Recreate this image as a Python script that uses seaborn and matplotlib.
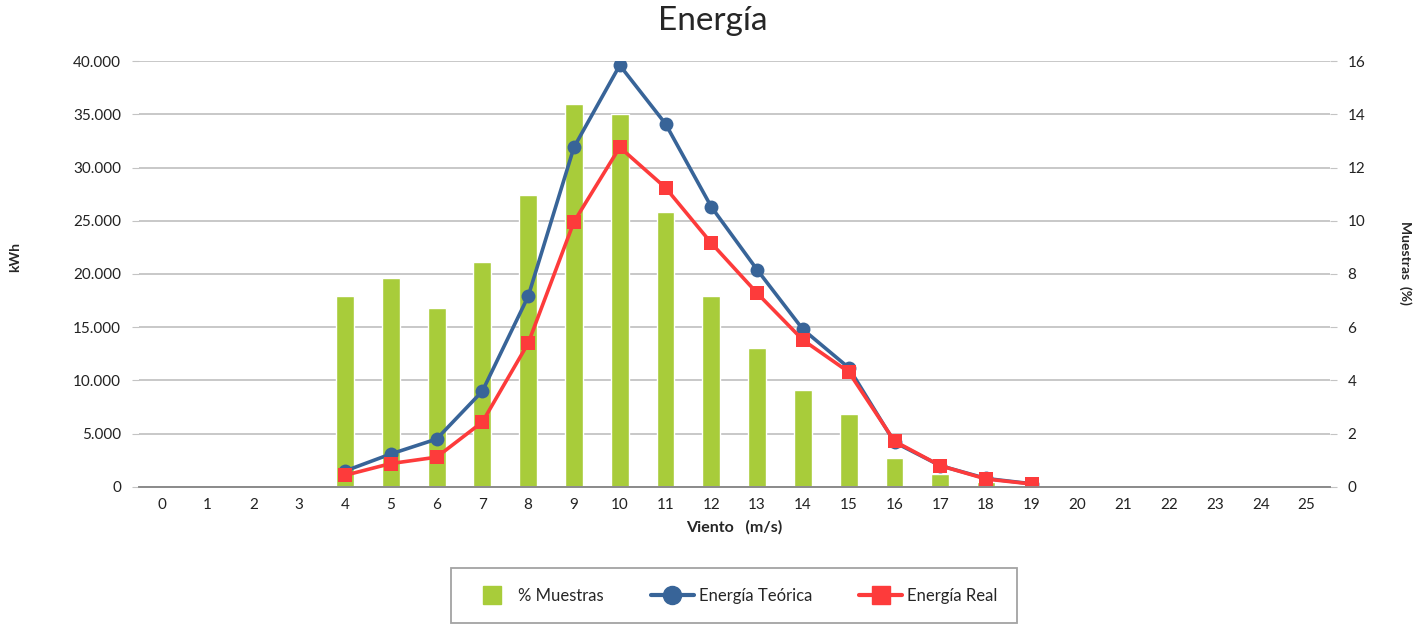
import matplotlib
matplotlib.use("Agg")
import matplotlib.pyplot as plt
import seaborn as sns
import pandas as pd
import numpy as np
from matplotlib.ticker import FuncFormatter, MultipleLocator
from matplotlib.lines import Line2D

# data
viento = list(range(0, 26))
muestras = [0, 0, 0, 0, 7.18, 7.86, 6.73, 8.46, 10.95, 14.4, 14.0, 10.34, 7.18,
            5.22, 3.64, 2.74, 1.09, 0.49, 0.19, 0.05, 0, 0, 0, 0, 0, 0]
viento_e = list(range(4, 20))
energia_teorica = [1500, 3100, 4500, 9000, 17900, 31900, 39600, 34100, 26300,
                   20400, 14800, 11200, 4200, 2000, 800, 300]
energia_real = [1100, 2200, 2800, 6100, 13500, 24900, 31900, 28100, 22900,
                18200, 13800, 10800, 4300, 2000, 750, 280]

verde = "#A8CC3A"
azul = "#386498"
rojo = "#FD3B3B"

sns.set_style("white")
plt.rcParams['font.family'] = ['Lato', 'DejaVu Sans']

df_bar = pd.DataFrame({"viento": [str(v) for v in viento], "muestras": muestras})

fig = plt.figure(figsize=(14.25, 6.27), dpi=100)
ax = fig.add_axes([0.0975, 0.2233, 0.8355, 0.6794])

sns.barplot(data=df_bar, x="viento", y="muestras", ax=ax, color=verde,
            width=0.39, saturation=1, zorder=2)

ax2 = ax.twinx()
sns.lineplot(x=viento_e, y=energia_teorica, ax=ax2, color=azul, marker="o",
             markersize=10, markeredgewidth=0, linewidth=2.6)
sns.lineplot(x=viento_e, y=energia_real, ax=ax2, color=rojo, marker="s",
             markersize=10, markeredgewidth=0, linewidth=2.6)

# bars axis: percent on the right
ax.set_ylim(0, 16)
ax.yaxis.set_major_locator(MultipleLocator(2))
ax.yaxis.tick_right()
ax.set_ylabel("")
ax.grid(axis="y", color="#c4c4c4", linewidth=1.3)
ax.set_axisbelow(True)
ax.set_xlim(-0.5, 25.5)
ax.set_xlabel("Viento   (m/s)", fontsize=11.5, fontweight="bold", labelpad=6)

# energy axis: kWh on the left
ax2.set_ylim(0, 40000)
ax2.yaxis.set_major_locator(MultipleLocator(5000))
ax2.yaxis.set_major_formatter(FuncFormatter(lambda v, p: f"{int(v):,}".replace(",", ".")))
ax2.yaxis.tick_left()
ax2.set_ylabel("")
ax2.set_xlim(-0.5, 25.5)

for a in (ax, ax2):
    for s in ("top", "left", "right"):
        a.spines[s].set_visible(False)
    a.spines["bottom"].set_color("#8c8c8c")
    a.spines["bottom"].set_linewidth(1.3)
    a.tick_params(axis="y", length=5, color="#c4c4c4", labelsize=11, pad=8, labelcolor="#222222")
    a.tick_params(axis="x", length=0, labelsize=11, pad=8, labelcolor="#222222")

fig.suptitle("Energía", y=0.99, fontsize=24)
fig.text(15 / 1425, 1 - 257 / 627, "kWh", rotation=90, fontsize=10,
         fontweight="bold", ha="center", va="center")
fig.text(1405 / 1425, 1 - 263 / 627, "Muestras  (%)", rotation=-90, fontsize=10,
         fontweight="bold", ha="center", va="center")

handles = [
    Line2D([0], [0], color=verde, marker="s", markersize=13, linewidth=0),
    Line2D([0], [0], color=azul, marker="o", markersize=13, linewidth=3),
    Line2D([0], [0], color=rojo, marker="s", markersize=13, linewidth=3),
]
leg = fig.legend(handles, ["% Muestras", "Energía Teórica", "Energía Real"],
                 loc="center", bbox_to_anchor=(0.515, 0.05), ncol=3,
                 fontsize=12, frameon=True, fancybox=False, borderpad=1.15,
                 handlelength=2.6, handletextpad=0.3, columnspacing=2.8,
                 borderaxespad=0)
leg.get_frame().set_edgecolor("#8c8c8c")
leg.get_frame().set_linewidth(1.3)

fig.savefig("out.png", dpi=100)
